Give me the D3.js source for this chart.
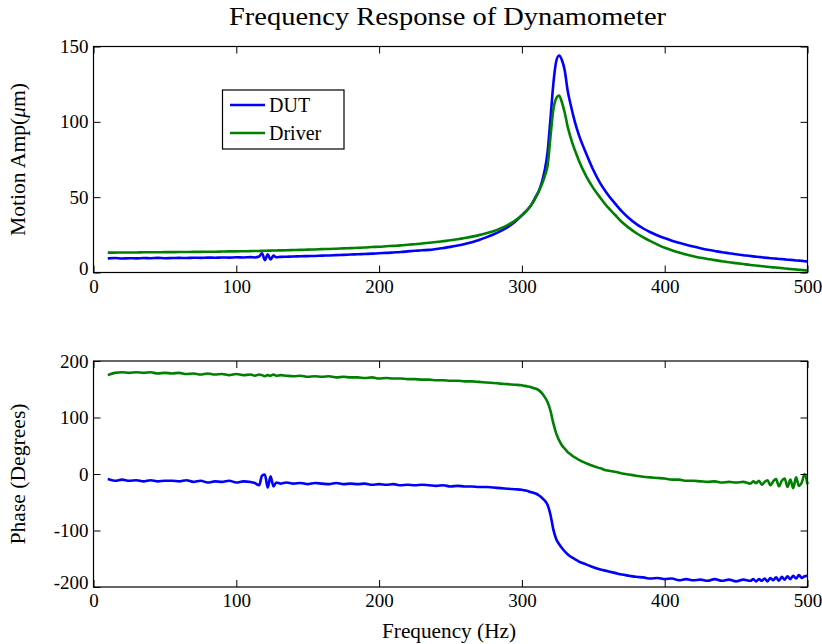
<!DOCTYPE html>
<html>
<head>
<meta charset="utf-8">
<script src="https://cdn.jsdelivr.net/npm/d3@7"></script>
<style>
  body { margin: 0; background: #fff; }
  svg text { font-family: "Liberation Serif", "Times New Roman", serif; fill: #000; }
</style>
</head>
<body>
<div id="chart"></div>
<script>
// frequency grid (Hz)
const freq = [
  10, 15, 20, 25, 30, 35, 40, 45, 50, 55,
  60, 65, 70, 75, 80, 85, 90, 95, 100, 105,
  110, 113, 116, 118, 120, 122, 124, 126, 128, 131,
  135, 140, 145, 150, 155, 160, 165, 170, 175, 180,
  185, 190, 195, 200, 205, 210, 215, 220, 225, 230,
  235, 240, 245, 250, 255, 260, 265, 270, 275, 280,
  285, 290, 295, 300, 302, 304, 306, 308, 310, 312,
  314, 316, 318, 320, 322, 324, 326, 328, 330, 332,
  334, 336, 338, 340, 345, 350, 355, 360, 365, 370,
  375, 380, 385, 390, 395, 400, 405, 410, 415, 420,
  425, 430, 435, 440, 445, 450, 455, 460, 462, 464,
  466, 468, 470, 472, 474, 476, 478, 480, 482, 484,
  486, 488, 490, 492, 494, 496, 498, 500
];

// motion amplitude (um)
const dutAmp = [
  9.4, 9.6, 9.3, 9.5, 9.4, 9.6, 9.5, 9.7, 9.5, 9.6,
  9.7, 9.6, 9.8, 9.7, 9.9, 9.8, 10.0, 9.9, 10.1, 10.0,
  10.2, 10.0, 10.6, 12.8, 8.2, 12.0, 8.6, 11.2, 10.1, 10.4,
  10.5, 10.6, 10.8, 10.9, 11.0, 11.2, 11.3, 11.5, 11.7, 11.9,
  12.1, 12.3, 12.5, 12.8, 13.0, 13.3, 13.6, 14.0, 14.4, 14.8,
  15.0, 15.6, 16.3, 17.0, 17.9, 18.9, 20.1, 21.6, 23.3, 25.2,
  27.4, 30.1, 33.5, 38.0, 39.8, 41.8, 44.2, 47.2, 50.8, 54.5,
  60, 68, 80, 102, 125, 140, 144, 141, 134, 121,
  112, 104, 97, 91, 79, 68, 59, 52, 46, 40.5,
  36.0, 32.3, 29.2, 26.7, 24.6, 22.8, 21.1, 19.7, 18.4, 17.2,
  16.1, 15.1, 14.3, 13.5, 12.8, 12.1, 11.5, 11.0, 10.7, 10.5,
  10.3, 10.1, 9.9, 9.7, 9.5, 9.3, 9.2, 9.0, 8.9, 8.7,
  8.5, 8.4, 8.2, 8.0, 7.9, 7.7, 7.5, 7.3
];
const drvAmp = [
  13.2, 13.2, 13.3, 13.3, 13.3, 13.4, 13.4, 13.4, 13.5, 13.5,
  13.6, 13.6, 13.7, 13.7, 13.8, 13.8, 13.9, 14.0, 14.0, 14.1,
  14.2, 14.3, 14.3, 14.4, 14.4, 14.5, 14.5, 14.6, 14.6, 14.7,
  14.8, 14.9, 15.0, 15.2, 15.3, 15.5, 15.6, 15.8, 16.0, 16.2,
  16.4, 16.6, 16.9, 17.1, 17.4, 17.7, 18.0, 18.4, 18.8, 19.2,
  19.7, 20.2, 20.8, 21.4, 22.1, 22.9, 23.8, 24.8, 26.0, 27.4,
  29.3, 31.5, 34.3, 38.0, 39.8, 41.8, 44.1, 46.9, 50.3, 54.2,
  58.5, 64, 71, 90, 108, 115.5, 117.5, 113, 106, 97,
  90, 84, 79, 74, 64, 56, 49.5, 43.5, 38.5, 33.5,
  29.6, 26.2, 23.3, 20.8, 18.5, 16.4, 14.7, 13.2, 11.9, 10.8,
  9.8, 9.0, 8.2, 7.5, 6.8, 6.2, 5.6, 5.0, 4.8, 4.6,
  4.4, 4.2, 4.0, 3.8, 3.6, 3.4, 3.3, 3.1, 2.9, 2.7,
  2.5, 2.3, 2.2, 2.0, 1.8, 1.7, 1.5, 1.3
];

// phase (degrees)
const dutPh = [
  -9, -12, -10, -12, -11, -13, -11, -13, -12, -12,
  -13, -11, -14, -12, -15, -13, -14, -12, -15, -13,
  -14, -16, -20, -3, -1, -24, -4, -22, -15, -17,
  -15, -17, -16, -18, -16, -17, -18, -16, -18, -17,
  -18, -17, -19, -18, -19, -18, -20, -19, -20, -19,
  -20, -21, -20, -22, -21, -22, -22, -23, -23, -24,
  -25, -26, -27, -28, -29, -30, -32, -33, -35, -38,
  -42, -47, -55, -72, -98, -115, -124, -131, -137, -142,
  -146, -149, -152, -155, -160, -165, -169, -172, -175, -178,
  -180, -182, -183, -185, -184, -186, -185, -188, -186, -188,
  -187, -189, -186, -189, -187, -190, -187, -189, -186, -190,
  -186, -189, -185, -190, -184, -188, -183, -189, -182, -187,
  -181, -186, -180, -185, -179, -184, -181, -180
];
const drvPh = [
  175, 179, 180, 179, 180, 179, 180, 178, 179, 178,
  179, 177, 178, 176, 178, 176, 177, 175, 177, 175,
  176, 174, 176, 175, 173, 175, 174, 176, 174, 175,
  174, 173, 174, 172, 173, 172, 173, 171, 172, 171,
  171, 170, 171, 169, 170, 169, 169, 168, 168, 167,
  167, 166, 166, 165, 165, 164, 164, 163, 162, 161,
  160, 159, 158, 157, 156, 155, 154, 152, 151, 148,
  143, 136, 127, 112, 90, 72, 60, 51, 45, 39,
  35, 31, 28, 25, 19, 14, 10, 6, 4, 1,
  -1, -3, -5, -6, -7, -8, -10, -10, -12, -12,
  -13, -14, -13, -15, -14, -15, -14, -17, -13, -16,
  -12, -19, -14, -11, -20, -13, -9, -22, -12, -8,
  -23, -10, -25, -6, -21, -15, 0, -18
];

const xTicks = [0, 100, 200, 300, 400, 500];
const ampTicks = [0, 50, 100, 150];
const phTicks = [-200, -100, 0, 100, 200];
const seriesNames = ['DUT', 'Driver'];
const seriesColors = ['#0000ff', '#008000'];

const width = 822, height = 644;
const svg = d3.select('#chart').append('svg')
  .attr('width', width).attr('height', height);

const x = d3.scaleLinear().domain([0, 500]).range([93.5, 807.5]);

function panel(top, bottom, yDomain, yTicks, series) {
  const y = d3.scaleLinear().domain(yDomain).range([bottom, top]);
  const g = svg.append('g');
  const tick = 7;

  const line = d3.line().x((d, i) => x(freq[i])).y(d => y(d)).curve(d3.curveMonotoneX);
  series.forEach((s, k) => {
    g.append('path').datum(s)
      .attr('fill', 'none').attr('stroke', seriesColors[k])
      .attr('stroke-width', 2.6).attr('stroke-linejoin', 'round')
      .attr('d', line);
  });

  const fmt = d => d;
  g.append('g').attr('transform', `translate(0,${bottom})`)
    .call(d3.axisBottom(x).tickValues(xTicks).tickSize(-tick).tickPadding(7).tickFormat(fmt));
  g.append('g').attr('transform', `translate(0,${top})`)
    .call(d3.axisTop(x).tickValues(xTicks).tickSize(-tick).tickFormat(''));
  const ly = g.append('g').attr('transform', `translate(${x.range()[0]},0)`)
    .call(d3.axisLeft(y).tickValues(yTicks).tickSize(-tick).tickPadding(5).tickFormat(fmt));
  g.append('g').attr('transform', `translate(${x.range()[1]},0)`)
    .call(d3.axisRight(y).tickValues(yTicks).tickSize(-tick).tickFormat(''));

  g.selectAll('.domain').remove();
  g.selectAll('.tick line').attr('stroke', '#000').attr('stroke-width', 1);
  g.selectAll('.tick text').attr('font-size', '19px').attr('font-family', '"Liberation Serif", serif');
  ly.selectAll('.tick text').filter(d => d === yDomain[0]).attr('dy', '0.1em');

  g.append('rect')
    .attr('x', x.range()[0]).attr('y', top)
    .attr('width', x.range()[1] - x.range()[0]).attr('height', bottom - top)
    .attr('fill', 'none').attr('stroke', '#000').attr('stroke-width', 1.2);

  const lab = g.append('text')
    .attr('transform', `translate(25,${(top + bottom) / 2}) rotate(-90)`)
    .attr('text-anchor', 'middle').attr('font-size', '21px');
  return { g, y, lab };
}

const p1 = panel(46.5, 272.5, [0, 150], ampTicks, [dutAmp, drvAmp]);
p1.lab.attr('textLength', 153).attr('lengthAdjust', 'spacingAndGlyphs');
p1.lab.append('tspan').text('Motion Amp(');
p1.lab.append('tspan').attr('font-style', 'italic').text('μ');
p1.lab.append('tspan').text('m)');

const p2 = panel(361, 587, [-200, 200], phTicks, [dutPh, drvPh]);
p2.lab.attr('textLength', 141).attr('lengthAdjust', 'spacingAndGlyphs').text('Phase (Degrees)');

// title and x label
svg.append('text').attr('x', 447.5).attr('y', 25)
  .attr('text-anchor', 'middle').attr('font-size', '26px')
  .attr('textLength', 437).attr('lengthAdjust', 'spacingAndGlyphs')
  .text('Frequency Response of Dynamometer');
svg.append('text').attr('x', 449).attr('y', 638)
  .attr('text-anchor', 'middle').attr('font-size', '21px')
  .attr('textLength', 134).attr('lengthAdjust', 'spacingAndGlyphs')
  .text('Frequency (Hz)');

// legend
const leg = svg.append('g');
leg.append('rect').attr('x', 222.5).attr('y', 90).attr('width', 121.5).attr('height', 59)
  .attr('fill', '#fff').attr('stroke', '#000').attr('stroke-width', 1.2);
seriesNames.forEach((n, k) => {
  const yy = 105 + k * 28;
  leg.append('line').attr('x1', 230).attr('x2', 265).attr('y1', yy).attr('y2', yy)
    .attr('stroke', seriesColors[k]).attr('stroke-width', 2.6);
  leg.append('text').attr('x', 269).attr('y', yy + 6.5).attr('font-size', '20px').text(n);
});
</script>
</body>
</html>
